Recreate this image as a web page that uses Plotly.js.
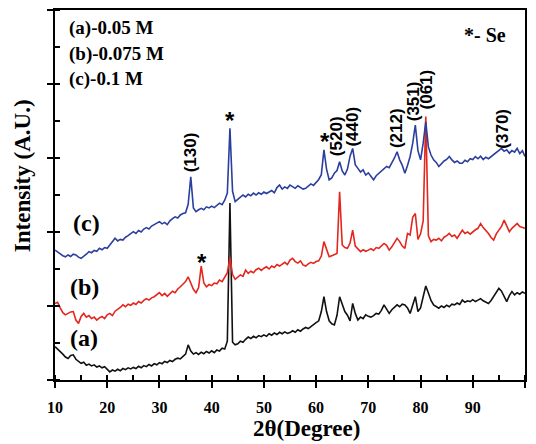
<!DOCTYPE html>
<html>
<head>
<meta charset="utf-8">
<script src="https://cdn.plot.ly/plotly-3.0.1.min.js"></script>
<style>
  html, body { margin: 0; padding: 0; background: #ffffff; }
  #chart { width: 536px; height: 444px; }
</style>
</head>
<body>
<div id="chart"></div>
<script>
// XRD patterns, 2θ from 10° to 100° sampled every 0.5°
const twoThetaStart = 10;
const twoThetaStep = 0.5;

// (a) 0.05 M
const intensityA = [
  0.90, 0.84, 0.76, 0.70, 0.62, 0.58, 0.66, 0.68, 0.56, 0.50,
  0.45, 0.48, 0.40, 0.43, 0.38, 0.41, 0.35, 0.38, 0.33, 0.36,
  0.30, 0.22, 0.27, 0.24, 0.29, 0.25, 0.31, 0.28, 0.33, 0.30,
  0.34, 0.31, 0.37, 0.33, 0.39, 0.36, 0.42, 0.38, 0.44, 0.41,
  0.47, 0.44, 0.50, 0.47, 0.53, 0.50, 0.56, 0.59, 0.57, 0.63,
  0.70, 0.95, 0.78, 0.70, 0.74, 0.69, 0.75, 0.71, 0.77, 0.73,
  0.79, 0.74, 0.81, 0.78, 0.86, 0.84, 1.05, 4.78, 1.02, 0.95,
  0.98, 1.05, 1.02, 1.10, 1.16, 1.12, 1.18, 1.14, 1.20, 1.17,
  1.22, 1.18, 1.25, 1.21, 1.27, 1.23, 1.29, 1.25, 1.30, 1.26,
  1.28, 1.33, 1.29, 1.36, 1.32, 1.38, 1.42, 1.39, 1.45, 1.50,
  1.55, 1.60, 1.85, 2.25, 1.85, 1.60, 1.52, 1.49, 1.75, 2.25,
  2.05, 1.85, 1.75, 1.60, 2.07, 1.80, 1.62, 1.70, 1.66, 1.76,
  1.72, 1.70, 1.74, 1.80, 1.78, 1.88, 2.03, 1.92, 1.80, 1.90,
  1.96, 2.03, 1.98, 2.05, 2.03, 1.95, 1.80, 2.05, 2.25, 1.85,
  1.95, 2.25, 2.54, 2.35, 2.15, 2.03, 1.98, 1.94, 2.00, 1.96,
  2.02, 1.98, 2.05, 2.03, 2.08, 2.04, 2.16, 2.10, 2.14, 2.12,
  2.17, 2.12, 2.16, 2.20, 2.14, 2.10, 2.07, 2.15, 2.25, 2.36,
  2.48, 2.40, 2.25, 2.12, 2.28, 2.39, 2.30, 2.36, 2.32, 2.38,
  2.34
];

// (b) 0.075 M
const intensityB = [
  2.07, 2.10, 1.95, 1.82, 1.76, 1.80, 1.84, 1.85, 1.62, 1.53,
  1.72, 1.80, 1.70, 1.74, 1.66, 1.70, 1.62, 1.68, 1.72, 1.66,
  1.76, 1.80, 1.74, 1.86, 1.90, 1.96, 2.03, 1.98, 2.05, 2.02,
  2.08, 2.04, 2.12, 2.08, 2.15, 2.20, 2.16, 2.22, 2.25, 2.30,
  2.36, 2.28, 2.34, 2.26, 2.32, 2.40, 2.36, 2.46, 2.52, 2.60,
  2.66, 2.79, 2.60, 2.45, 2.36, 2.50, 3.08, 2.62, 2.52, 2.58,
  2.55, 2.62, 2.60, 2.70, 2.66, 2.79, 2.90, 3.31, 2.85, 2.72,
  2.78, 2.84, 2.80, 2.97, 2.88, 2.94, 2.90, 2.98, 3.02, 2.96,
  3.02, 3.06, 3.00, 3.08, 3.04, 3.12, 3.08, 3.14, 3.18, 3.12,
  3.24, 3.29, 3.20, 3.16, 3.22, 3.11, 3.08, 3.14, 3.18, 3.15,
  3.20, 3.22, 3.35, 3.74, 3.50, 3.33, 3.36, 3.40, 3.42, 5.09,
  3.65, 3.58, 3.56, 3.70, 4.05, 3.62, 3.55, 3.47, 3.52, 3.48,
  3.51, 3.55, 3.50, 3.58, 3.56, 3.62, 3.69, 3.64, 3.51, 3.60,
  3.72, 3.83, 3.74, 3.62, 3.56, 3.96, 3.92, 4.40, 4.50, 3.80,
  3.95, 4.30, 7.12, 3.90, 3.74, 3.80, 3.78, 3.83, 3.76, 3.86,
  3.90, 3.96, 3.88, 3.92, 3.83, 3.95, 4.05, 3.96, 4.00, 3.94,
  4.01, 4.06, 4.10, 4.23, 4.12, 4.05, 3.96, 3.85, 3.78, 3.95,
  4.05, 4.15, 4.32, 4.18, 4.01, 4.10, 4.18, 4.23, 4.15, 4.12,
  4.10
];

// (c) 0.1 M
const intensityC = [
  3.51, 3.46, 3.40, 3.36, 3.33, 3.38, 3.34, 3.40, 3.38, 3.32,
  3.29, 3.34, 3.40, 3.47, 3.44, 3.50, 3.48, 3.56, 3.52, 3.58,
  3.56, 3.65, 3.74, 3.83, 3.76, 3.80, 3.78, 3.86, 3.90, 3.96,
  4.01, 3.96, 4.04, 4.00, 4.08, 4.12, 4.08, 4.16, 4.20, 4.23,
  4.28, 4.22, 4.26, 4.20, 4.30, 4.36, 4.41, 4.38, 4.46, 4.50,
  4.52, 4.75, 5.49, 4.65, 4.55, 4.60, 4.64, 4.60, 4.68, 4.65,
  4.70, 4.66, 4.73, 4.78, 4.74, 4.86, 5.05, 6.80, 5.10, 4.82,
  4.88, 4.94, 5.00, 4.95, 5.02, 4.98, 5.05, 5.00, 5.06, 5.02,
  5.08, 5.04, 5.09, 5.12, 5.06, 5.20, 5.27, 5.16, 5.22, 5.18,
  5.27, 5.22, 5.18, 5.25, 5.20, 5.16, 5.18, 5.24, 5.30, 5.26,
  5.34, 5.42, 5.55, 6.22, 5.70, 5.41, 5.46, 5.59, 5.66, 5.90,
  5.65, 5.54, 5.70, 6.05, 6.26, 5.82, 5.72, 5.62, 5.68, 5.54,
  5.60, 5.50, 5.41, 5.52, 5.58, 5.64, 5.70, 5.77, 5.74, 5.86,
  6.00, 6.17, 5.95, 5.80, 5.59, 5.80, 6.04, 6.40, 6.89, 6.20,
  5.95, 6.40, 6.98, 6.30, 6.08, 5.95, 5.88, 5.77, 5.85, 5.92,
  5.96, 6.04, 5.95, 5.88, 5.92, 5.86, 5.86, 5.94, 5.90, 5.98,
  5.96, 6.04, 5.98, 6.05, 5.96, 6.02, 5.98, 6.04, 6.10, 6.14,
  6.20, 6.26, 6.18, 6.22, 6.13, 6.20, 6.16, 6.26, 6.12, 6.20,
  6.04
];

// Miller indices of the reflections marked on pattern (c)
const reflectionLabels = ['(130)', '(520)', '(440)', '(212)', '(351)', '(061)', '(370)'];
const reflectionTheta  = [35.9, 63.8, 67.0, 75.3, 78.6, 81.1, 95.7];

// Se reflections (marked with *)
const seTheta = [43.5, 38.1, 61.7];

// Sample descriptions
const sampleLegend = ['(a)-0.05 M', '(b)-0.075 M', '(c)-0.1 M'];
const curveTags = ['(a)', '(b)', '(c)'];

const SERIF = 'Liberation Serif, Times New Roman, serif';
const SANS = 'Liberation Sans, Arial, sans-serif';

function pattern(y, color) {
  return {
    type: 'scatter', mode: 'lines',
    x0: twoThetaStart, dx: twoThetaStep, y: y,
    line: { color: color, width: 1.6 },
    hoverinfo: 'skip'
  };
}

const traces = [
  pattern(intensityA, '#111111'),
  pattern(intensityB, '#e3261e'),
  pattern(intensityC, '#2b3f9f')
];

const annotations = [];

// hkl labels, rotated, above the peaks of (c)
const reflectionY = [6.16, 6.59, 6.84, 6.81, 7.54, 7.86, 6.78];
reflectionLabels.forEach((t, i) => {
  annotations.push({
    x: reflectionTheta[i], y: reflectionY[i], xref: 'x', yref: 'y',
    text: t, textangle: -90, showarrow: false,
    xanchor: 'center', yanchor: 'middle',
    font: { family: SANS, size: 17, weight: 'bold', color: '#000' }
  });
});

// Se stars
const seY = [7.14, 3.30, 6.57];
seTheta.forEach((x, i) => {
  annotations.push({
    x: x, y: seY[i], xref: 'x', yref: 'y',
    text: '*', showarrow: false, xanchor: 'center', yanchor: 'middle',
    yshift: -5,
    font: { family: SANS, size: 24, weight: 'bold', color: '#000' }
  });
});

// sample list, top left
const legendY = [0.951, 0.881, 0.814];
sampleLegend.forEach((t, i) => {
  annotations.push({
    x: 0.0255, y: legendY[i], xref: 'paper', yref: 'paper',
    text: t, showarrow: false, xanchor: 'left', yanchor: 'middle',
    font: { family: SERIF, size: 19, weight: 'bold', color: '#000' }
  });
});

annotations.push({
  x: 0.866, y: 0.932, xref: 'paper', yref: 'paper',
  text: '*- Se', showarrow: false, xanchor: 'left', yanchor: 'middle',
  font: { family: SERIF, size: 20, weight: 'bold', color: '#000' }
});

// curve tags at the left of each pattern
const tagX = [0.062, 0.062, 0.066];
const tagY = [0.114, 0.251, 0.424];
curveTags.forEach((t, i) => {
  annotations.push({
    x: tagX[i], y: tagY[i], xref: 'paper', yref: 'paper',
    text: t, showarrow: false, xanchor: 'center', yanchor: 'middle',
    font: { family: SERIF, size: 24, weight: 'bold', color: '#000' }
  });
});

// axis titles
annotations.push({
  x: -0.0702, y: 0.551, xref: 'paper', yref: 'paper',
  text: 'Intensity (A.U.)', textangle: -90, showarrow: false,
  xanchor: 'center', yanchor: 'middle',
  font: { family: SERIF, size: 23, weight: 'bold', color: '#000' }
});
annotations.push({
  x: 0.536, y: -0.13, xref: 'paper', yref: 'paper',
  text: '2θ(Degree)', showarrow: false,
  xanchor: 'center', yanchor: 'middle',
  font: { family: SERIF, size: 23, weight: 'bold', color: '#000' }
});

const axisCommon = {
  showline: true, linewidth: 2, linecolor: '#000', mirror: true,
  showgrid: false, zeroline: false,
  ticks: 'outside', ticklen: 6, tickwidth: 2, tickcolor: '#000'
};

const layout = {
  width: 536, height: 444,
  margin: { l: 55, r: 11, t: 10, b: 64 },
  paper_bgcolor: '#ffffff', plot_bgcolor: '#ffffff',
  showlegend: false,
  xaxis: Object.assign({}, axisCommon, {
    range: [10, 100], tick0: 10, dtick: 10,
    tickfont: { family: SERIF, size: 16, weight: 'bold', color: '#000' },
    ticklabelstandoff: 6,
    minor: { ticks: 'inside', tick0: 10, dtick: 5, ticklen: 5, tickwidth: 2, tickcolor: '#000', showgrid: false }
  }),
  yaxis: Object.assign({}, axisCommon, {
    range: [0, 10], tick0: 0, dtick: 2, showticklabels: false,
    minor: { ticks: 'inside', tick0: 0, dtick: 1, ticklen: 5, tickwidth: 2, tickcolor: '#000', showgrid: false }
  }),
  annotations: annotations
};

Plotly.newPlot('chart', traces, layout, { staticPlot: true, displayModeBar: false });
</script>
</body>
</html>
